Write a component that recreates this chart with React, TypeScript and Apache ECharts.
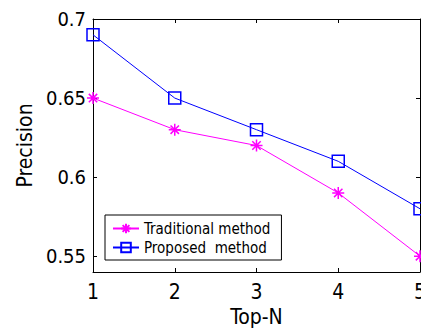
import React, { useEffect, useRef } from "react";
import * as echarts from "echarts";

const categories = [1, 2, 3, 4, 5];
const traditional = [0.65, 0.63, 0.62, 0.59, 0.55];
const proposed = [0.69, 0.65, 0.63, 0.61, 0.58];
const yTicks = [0.55, 0.6, 0.65, 0.7];
const xTicks = [1, 2, 3, 4, 5];

const FONT = "'Liberation Sans Narrow', 'Arial Narrow', 'DejaVu Sans Condensed', 'Liberation Sans', Arial, sans-serif";
const ASTERISK = "path://M6 0 L6 12 M0 6 L12 6 M1.8 1.8 L10.2 10.2 M10.2 1.8 L1.8 10.2";

export default function App() {
  const ref = useRef<HTMLDivElement>(null);
  useEffect(() => {
    if (!ref.current) return;
    const chart = echarts.init(ref.current, null, { renderer: "svg" });
    const axisLine = { show: true, onZero: false, lineStyle: { color: "#000", width: 1 } };
    chart.setOption({
      animation: false,
      backgroundColor: "#fff",
      textStyle: { fontFamily: FONT },
      grid: { left: 93, top: 19, right: 1, bottom: 57, containLabel: false, outerBoundsMode: "none" },
      xAxis: [
        {
          type: "value",
          min: 1,
          max: 5,
          interval: 1,
          position: "bottom",
          name: "Top-N",
          nameLocation: "middle",
          nameGap: 31,
          nameTextStyle: { fontSize: 21, color: "#000", fontFamily: FONT },
          axisLine,
          axisTick: { show: true, inside: true, length: 4, lineStyle: { color: "#000" }, customValues: xTicks },
          axisLabel: { show: true, fontSize: 21, color: "#000", margin: 9, fontFamily: FONT, customValues: xTicks },
          splitLine: { show: false },
        },
        {
          type: "value",
          min: 1,
          max: 5,
          interval: 1,
          position: "top",
          axisLine,
          axisTick: { show: true, inside: true, length: 4, lineStyle: { color: "#000" }, customValues: xTicks },
          axisLabel: { show: false },
          splitLine: { show: false },
        },
      ],
      yAxis: [
        {
          type: "value",
          min: 0.54,
          max: 0.7,
          position: "left",
          name: "Precision",
          nameLocation: "middle",
          nameGap: 52,
          nameTextStyle: { fontSize: 21, color: "#000", fontFamily: FONT },
          axisLine,
          axisTick: { show: true, inside: true, length: 4, lineStyle: { color: "#000" }, customValues: yTicks },
          axisLabel: {
            show: true,
            fontSize: 20,
            color: "#000",
            margin: 7,
            fontFamily: FONT,
            customValues: yTicks,
            formatter: (v: number) => String(Math.round(v * 100) / 100),
          },
          splitLine: { show: false },
        },
        {
          type: "value",
          min: 0.54,
          max: 0.7,
          position: "right",
          axisLine,
          axisTick: { show: true, inside: true, length: 4, lineStyle: { color: "#000" }, customValues: yTicks },
          axisLabel: { show: false },
          splitLine: { show: false },
        },
      ],
      legend: {
        orient: "vertical",
        left: 105,
        top: 215,
        padding: [6, 11, 5, 7],
        itemWidth: 26,
        itemHeight: 12,
        itemGap: 4,
        backgroundColor: "#fff",
        borderColor: "#000",
        borderWidth: 1,
        borderRadius: 0,
        textStyle: { fontSize: 15, color: "#000", fontFamily: FONT, lineHeight: 15 },
        data: ["Traditional method", "Proposed  method"],
      },
      series: [
        {
          name: "Traditional method",
          type: "line",
          xAxisIndex: 0,
          yAxisIndex: 0,
          data: categories.map((c, i) => [c, traditional[i]]),
          symbol: ASTERISK,
          symbolSize: 12,
          lineStyle: { color: "#ff00ff", width: 1 },
          itemStyle: { color: "#ff00ff", borderColor: "#ff00ff", borderWidth: 1.5 },
          z: 3,
        },
        {
          name: "Proposed  method",
          type: "line",
          xAxisIndex: 0,
          yAxisIndex: 0,
          data: categories.map((c, i) => [c, proposed[i]]),
          symbol: "rect",
          symbolSize: 12,
          lineStyle: { color: "#0000ff", width: 1 },
          itemStyle: { color: "rgba(0,0,0,0)", borderColor: "#0000ff", borderWidth: 1.5 },
          z: 3,
        },
      ],
    });
    return () => chart.dispose();
  }, []);
  return <div ref={ref} style={{ width: 421, height: 329, position: "absolute", left: 0, top: 0 }} />;
}
